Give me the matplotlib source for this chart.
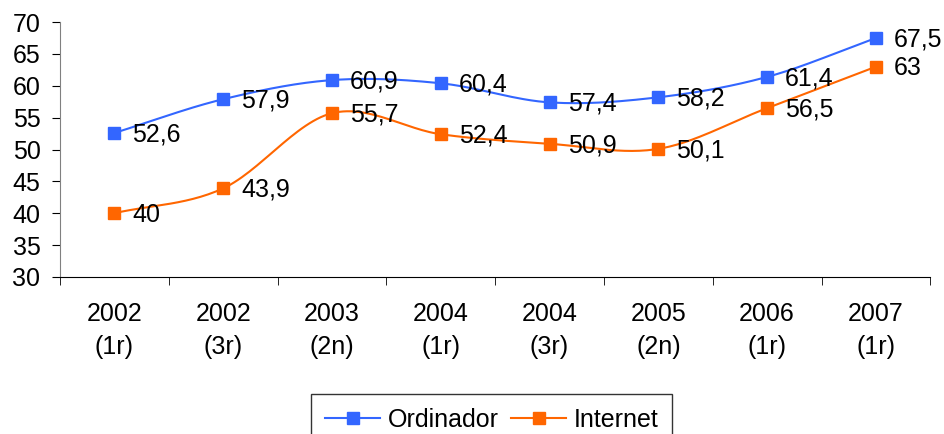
import numpy as np
import matplotlib.pyplot as plt

plt.rcParams['font.family'] = ['Liberation Sans', 'DejaVu Sans']

periods = ['2002\n(1r)', '2002\n(3r)', '2003\n(2n)', '2004\n(1r)',
           '2004\n(3r)', '2005\n(2n)', '2006\n(1r)', '2007\n(1r)']
ordinador = [52.6, 57.9, 60.9, 60.4, 57.4, 58.2, 61.4, 67.5]
internet = [40, 43.9, 55.7, 52.4, 50.9, 50.1, 56.5, 63]


def smooth(xs, ys, n=30):
    # catmull-rom like excel's smoothed line
    xs = np.asarray(xs, float)
    ys = np.asarray(ys, float)
    px = np.concatenate([[2*xs[0]-xs[1]], xs, [2*xs[-1]-xs[-2]]])
    py = np.concatenate([[2*ys[0]-ys[1]], ys, [2*ys[-1]-ys[-2]]])
    outx, outy = [], []
    t = np.linspace(0, 1, n)
    for i in range(1, len(px)-2):
        for p, out in ((px, outx), (py, outy)):
            p0, p1, p2, p3 = p[i-1], p[i], p[i+1], p[i+2]
            out.extend(0.5*((2*p1) + (-p0+p2)*t + (2*p0-5*p1+4*p2-p3)*t**2
                            + (-p0+3*p1-3*p2+p3)*t**3))
    return outx, outy


x = np.arange(len(periods))
fig = plt.figure(figsize=(9.44, 4.34), dpi=100)
ax = fig.add_axes([0.0635, 0.362, 0.922, 0.587])

fs = 18
series = [(ordinador, '#3366FF', 'Ordinador'), (internet, '#FF6600', 'Internet')]
handles = []
for vals, col, name in series:
    sx, sy = smooth(x, vals)
    ax.plot(sx, sy, color=col, lw=1.5)
    ax.plot(x, vals, 's', color=col, ms=8.5, ls='none')
    h, = ax.plot([], [], color=col, lw=1.5, marker='s', ms=8.5, label=name)
    handles.append(h)
    for xi, v in zip(x, vals):
        lab = ('%g' % v).replace('.', ',')
        ax.annotate(lab, (xi, v), xytext=(13, -1), textcoords='offset points',
                    va='center', ha='left', fontsize=fs)

ax.set_xlim(-0.5, len(periods)-0.5)
ax.set_ylim(30, 70)
ax.set_yticks(range(30, 71, 5))
ax.set_xticks(x)
ax.set_xticklabels(periods, fontsize=fs, linespacing=1.5)
ax.set_xticks(np.arange(-0.5, len(periods)), minor=True)
ax.tick_params(axis='x', which='major', length=0, pad=18)
ax.tick_params(axis='x', which='minor', length=6, direction='out')
ax.tick_params(axis='y', labelsize=fs, length=6, pad=8)
for s in ['top', 'right']:
    ax.spines[s].set_visible(False)
ax.spines['left'].set_color('#808080')

leg = fig.legend(handles=handles, loc='upper center', bbox_to_anchor=(0.521, 0.092),
                 ncol=2, fontsize=fs, frameon=True, fancybox=False, handlelength=2.2,
                 columnspacing=0.5, handletextpad=0.3, borderpad=0.55, borderaxespad=0)
leg.get_frame().set_edgecolor('black')
leg.get_frame().set_linewidth(1)

fig.savefig('out.png', dpi=100)
